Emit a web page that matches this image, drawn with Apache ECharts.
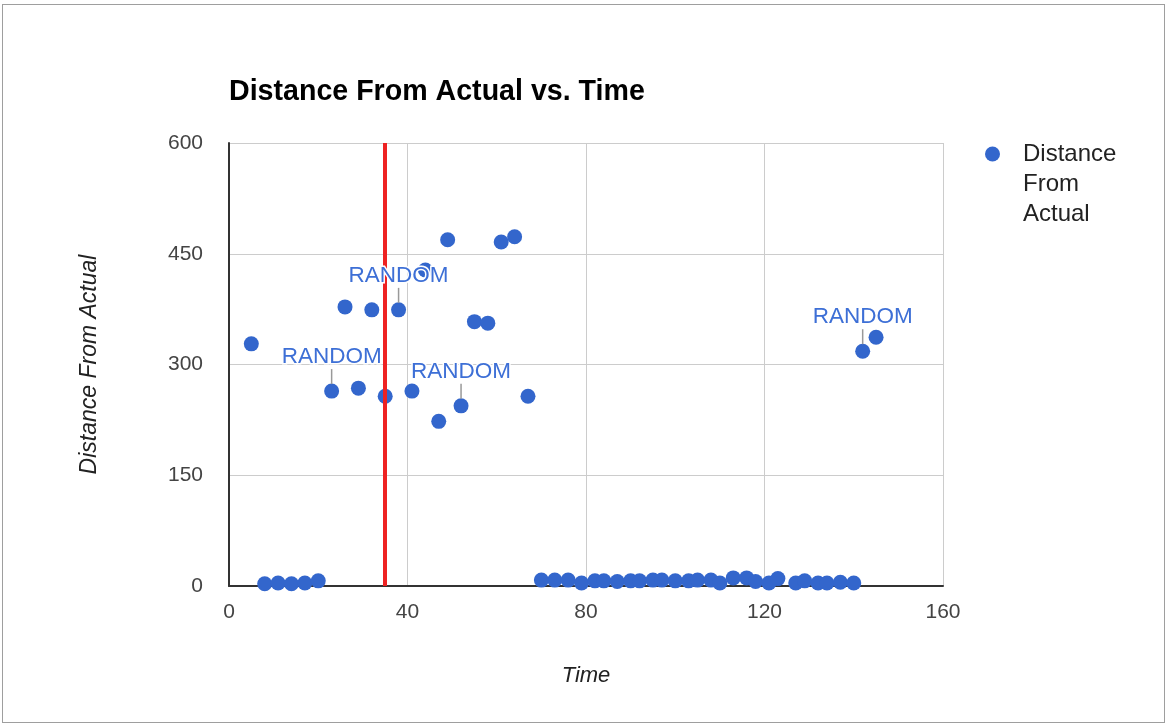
<!DOCTYPE html>
<html>
<head>
<meta charset="utf-8">
<script src="https://cdn.jsdelivr.net/npm/echarts@6/dist/echarts.min.js"></script>
<style>
  html, body { margin: 0; padding: 0; background: #fff; }
  #wrap { position: relative; width: 1167px; height: 725px; }
  #chart { position: absolute; left: 0; top: 0; width: 1167px; height: 725px; }
  #frame { position: absolute; left: 2px; top: 4px; width: 1161px; height: 717px; border: 1px solid #9e9e9e; pointer-events: none; }
</style>
</head>
<body>
<div id="wrap">
  <div id="chart"></div>
  <div id="frame"></div>
</div>
<script>
// ---- Data ----
const seriesName = 'Distance From Actual';
const timeValues = [5, 8, 11, 14, 17, 20, 23, 26, 29, 32, 35, 38, 41, 44, 47, 49, 52, 55, 58, 61, 64, 67,
  70, 73, 76, 79, 82, 84, 87, 90, 92, 95, 97, 100, 103, 105, 108, 110, 113, 116, 118, 121, 123, 127, 129, 132, 134, 137, 140,
  142, 145];
const distanceValues = [328, 3, 4, 3, 4, 7, 264, 378, 268, 374, 257, 374, 264, 428, 223, 469, 244, 358, 356, 466, 473, 257,
  8, 8, 8, 4, 7, 7, 6, 7, 7, 8, 8, 7, 7, 8, 8, 4, 11, 11, 6, 4, 10, 4, 7, 4, 4, 5, 4,
  318, 337];
const annotatedTimes = [23, 38, 52, 142];
const annotationText = 'RANDOM';
const redLineTime = 35;
const xTicks = [0, 40, 80, 120, 160];
const yTicks = [0, 150, 300, 450, 600];

// ---- Build ----
const points = timeValues.map((t, i) => [t, distanceValues[i]]);
const annotationPoints = annotatedTimes.map(t => [t, distanceValues[timeValues.indexOf(t)]]);
const FONT = '"Liberation Sans", Arial, sans-serif';

const chart = echarts.init(document.getElementById('chart'));
chart.setOption({
  animation: false,
  backgroundColor: '#fff',
  title: {
    text: 'Distance From Actual vs. Time',
    left: 224, top: 73,
    textStyle: { fontFamily: FONT, fontSize: 28.6, fontWeight: 'bold', color: '#000' }
  },
  legend: {
    left: 980, top: 74,
    icon: 'circle',
    itemWidth: 15, itemHeight: 15, itemGap: 10,
    formatter: () => '{s|}\n{s|}\n{a|Distance}\n{a|From}\n{a|Actual}',
    textStyle: {
      fontFamily: FONT, fontSize: 24, color: '#222', lineHeight: 30,
      rich: {
        s: { lineHeight: 30, fontSize: 24 },
        a: { fontFamily: FONT, fontSize: 24, color: '#222', lineHeight: 30, padding: [0, 0, 0, 18] }
      }
    },
    data: [seriesName]
  },
  grid: { left: 229, right: 224, top: 143, bottom: 139, containLabel: false },
  xAxis: {
    type: 'value', min: xTicks[0], max: xTicks[xTicks.length - 1], interval: 40,
    name: 'Time', nameLocation: 'middle', nameGap: 79,
    nameTextStyle: { fontFamily: FONT, fontSize: 22, fontStyle: 'italic', color: '#222' },
    axisLine: { show: true, onZero: false, lineStyle: { color: '#333', width: 2 } },
    axisTick: { show: false },
    axisLabel: { fontFamily: FONT, fontSize: 21, color: '#444', margin: 16 },
    splitLine: { show: true, lineStyle: { color: '#ccc', width: 1 } }
  },
  yAxis: {
    type: 'value', min: yTicks[0], max: yTicks[yTicks.length - 1], interval: 150,
    name: 'Distance From Actual', nameLocation: 'middle', nameGap: 128,
    nameTextStyle: { fontFamily: FONT, fontSize: 23, fontStyle: 'italic', color: '#222' },
    axisLine: { show: true, onZero: false, lineStyle: { color: '#333', width: 2 } },
    axisTick: { show: false },
    axisLabel: { fontFamily: FONT, fontSize: 21, color: '#444', margin: 26 },
    splitLine: { show: true, lineStyle: { color: '#ccc', width: 1 } }
  },
  series: [
    {
      name: seriesName,
      type: 'scatter',
      data: points,
      symbol: 'circle',
      symbolSize: 15,
      itemStyle: { color: '#3366cc', opacity: 1 },
      markLine: {
        silent: true,
        symbol: ['none', 'none'],
        label: { show: false },
        lineStyle: { color: '#ee2222', width: 4, type: 'solid' },
        z: 5,
        data: [{ xAxis: redLineTime }]
      }
    },
    {
      type: 'custom',
      name: 'annotations',
      data: annotationPoints,
      z: 10,
      silent: true,
      renderItem: function (params, api) {
        const p = api.coord([api.value(0), api.value(1)]);
        return {
          type: 'group',
          children: [
            { type: 'line', shape: { x1: p[0], y1: p[1] - 7, x2: p[0], y2: p[1] - 22 },
              style: { stroke: '#999', lineWidth: 1.5 } },
            { type: 'text', x: p[0], y: p[1] - 34,
              style: { text: annotationText, font: '22.5px ' + FONT, fill: '#3d6fd6', align: 'center', verticalAlign: 'middle',
                stroke: '#fff', lineWidth: 3 } }
          ]
        };
      }
    }
  ]
});
</script>
</body>
</html>
